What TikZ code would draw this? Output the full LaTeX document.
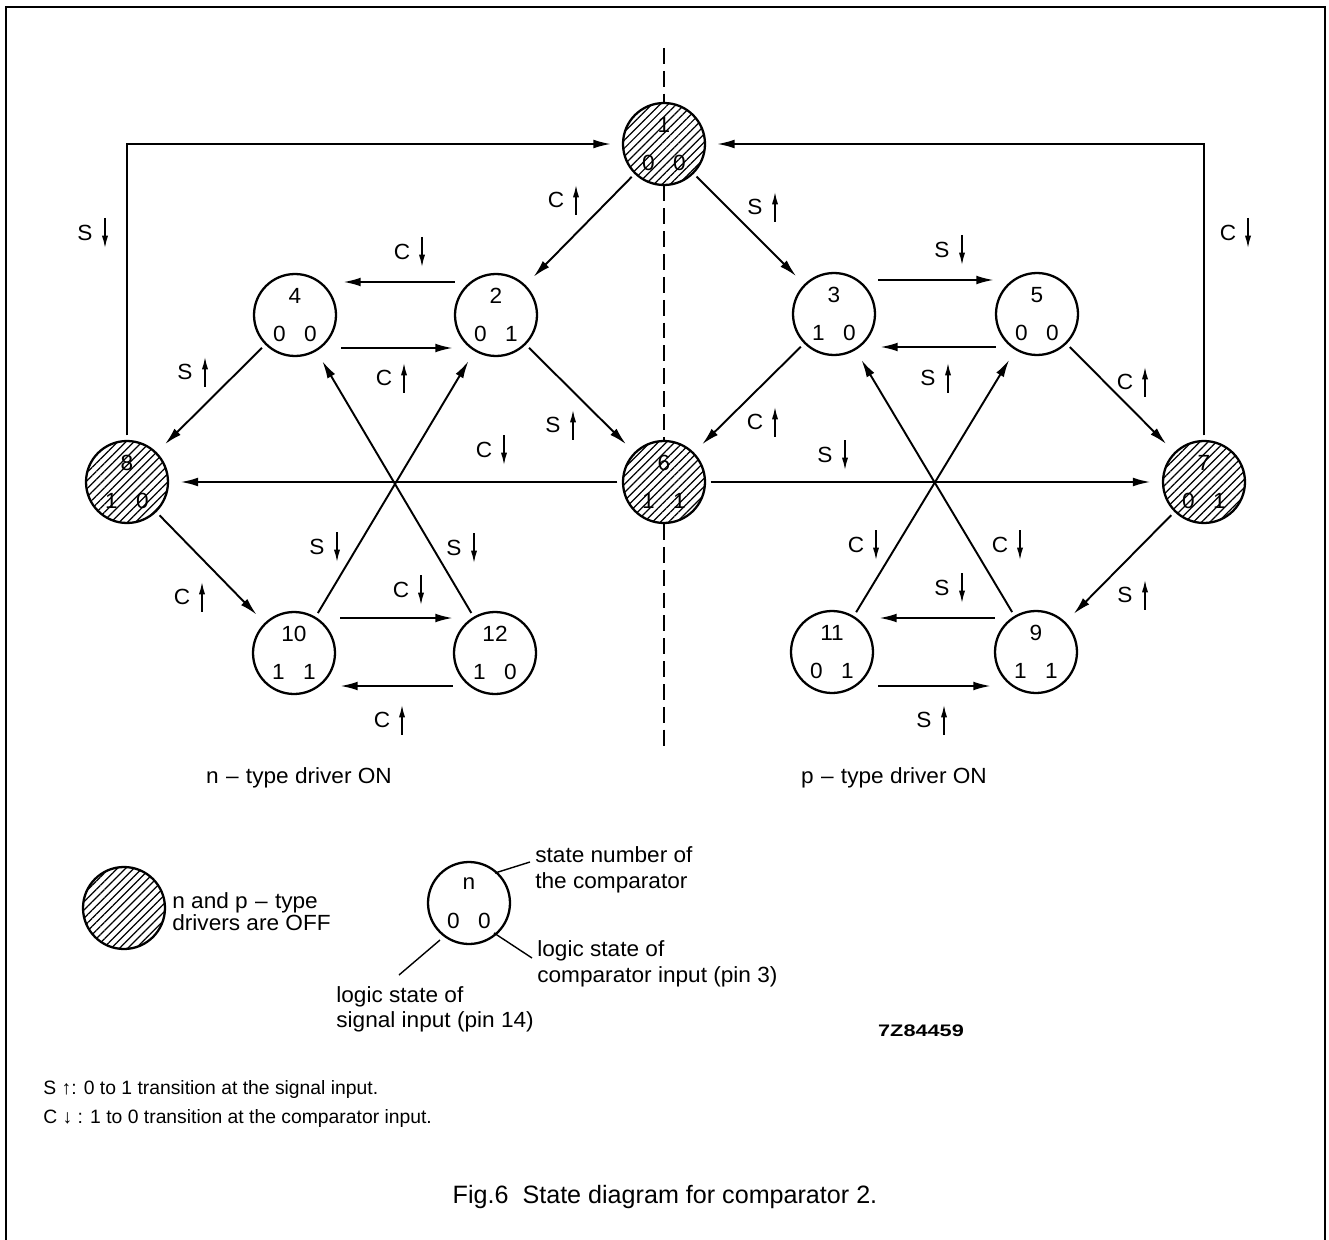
\documentclass[tikz,border=0pt]{standalone}
\usepackage{fontspec}
\setmainfont{Liberation Sans}
\newfontfamily\diagfont{Liberation Sans}[FakeStretch=1.03]
\newfontfamily\codefont{Liberation Sans}[FakeStretch=1.3]
\usetikzlibrary{
	arrows.meta,
	calc,
	patterns.meta
}

% letter S or C with the small transition arrow beside it
\newcommand{\translabel}[4]{%
	\node[letter] (#1) at (#2) {#3};
	\draw[flag#4] ($(#1)+(20,-15)$) -- ($(#1)+(20,15)$);
}

\begin{document}
\begin{tikzpicture}[x=0.02cm, y=-0.02cm,
		font=\diagfont\fontsize{12.5}{14.5}\selectfont,
		state/.style={draw, circle, line width=1.3pt, minimum size=1.64cm, inner sep=0pt, align=center},
		off/.style={state, pattern={Lines[angle=45,distance=3.3pt,line width=0.7pt]}},
		trans/.style={-{Latex[length=10pt,width=5pt]}, line width=1.1pt, shorten <=2.5pt, shorten >=6.5pt},
		pair/.style={-{Latex[length=10pt,width=5pt]}, line width=1.2pt},
		letter/.style={inner sep=0pt},
		flagdown/.style={-{Latex[length=7pt,width=3.5pt]}, line width=0.8pt},
		flagup/.style={{Latex[length=7pt,width=3.5pt]}-, line width=0.8pt},
		divider/.style={dash pattern=on 9pt off 4pt, line width=1pt},
		leader/.style={line width=0.8pt},
		txt/.style={inner sep=0pt, align=left}]
		\useasboundingbox (0,0) rectangle (1329,1240);
		\draw[line width=1.1pt] (6,1240) -- (6,7) -- (1325,7) -- (1325,1240);
		
		% states: number on top, signal and comparator inputs below
		\node[off] (n1) at (664,144) {1\\[7.5pt]0\hspace{10.5pt}0};
		\node[state] (n2) at (496,315) {2\\[7.5pt]0\hspace{10.5pt}1};
		\node[state] (n3) at (834,314) {3\\[7.5pt]1\hspace{10.5pt}0};
		\node[state] (n4) at (295,315) {4\\[7.5pt]0\hspace{10.5pt}0};
		\node[state] (n5) at (1037,314) {5\\[7.5pt]0\hspace{10.5pt}0};
		\node[off] (n6) at (664,482) {6\\[7.5pt]1\hspace{10.5pt}1};
		\node[off] (n7) at (1204,482) {7\\[7.5pt]0\hspace{10.5pt}1};
		\node[off] (n8) at (127,482) {8\\[7.5pt]1\hspace{10.5pt}0};
		\node[state] (n9) at (1036,652) {9\\[7.5pt]1\hspace{10.5pt}1};
		\node[state] (n10) at (294,653) {10\\[7.5pt]1\hspace{10.5pt}1};
		\node[state] (n11) at (832,652) {11\\[7.5pt]0\hspace{10.5pt}1};
		\node[state] (n12) at (495,653) {12\\[7.5pt]1\hspace{10.5pt}0};
		
		\coordinate (top) at (664,48);
		\coordinate (bottom) at (664,748);
		\draw[divider] (top) -- (n1.north);
		\draw[divider] (n1.south) -- (n6.north);
		\draw[divider] (n6.south) -- (bottom);
		
		\draw[trans] (n8) |- (n1);
		\draw[trans] (n7) |- (n1);
		\draw[trans] (n1) -- (n2);
		\draw[trans] (n1) -- (n3);
		\draw[trans] (n2) -- (n6);
		\draw[trans] (n3) -- (n6);
		\draw[trans] (n4) -- (n8);
		\draw[trans] (n5) -- (n7);
		\draw[trans] (n8) -- (n10);
		\draw[trans] (n7) -- (n9);
		\draw[trans] (n6) -- (n8);
		\draw[trans] (n6) -- (n7);
		\draw[trans] (n10) -- (n2);
		\draw[trans] (n12) -- (n4);
		\draw[trans] (n11) -- (n5);
		\draw[trans] (n9) -- (n3);
		
		% back and forth between neighbours
		\draw[pair] ($(n2.west)+(1,-33)$) -- ($(n4.east)+(6,-33)$);
		\draw[pair] ($(n4.east)+(4,33)$) -- ($(n2.west)+(-1,33)$);
		\draw[pair] ($(n3.east)+(2,-34)$) -- ($(n5.west)+(-1,-34)$);
		\draw[pair] ($(n5.west)+(1,33)$) -- ($(n3.east)+(4,33)$);
		\draw[pair] ($(n10.east)+(4,-35)$) -- ($(n12.west)+(0,-35)$);
		\draw[pair] ($(n12.west)+(0,33)$) -- ($(n10.east)+(4,33)$);
		\draw[pair] ($(n9.west)+(1,-34)$) -- ($(n11.east)+(5,-34)$);
		\draw[pair] ($(n11.east)+(4,34)$) -- ($(n9.west)+(-3,34)$);
		
		\translabel{s81}{85,233}{S}{down}
		\translabel{c71}{1228,233}{C}{down}
		\translabel{c12}{556,200}{C}{up}
		\translabel{s13}{755,207}{S}{up}
		\translabel{c24}{402,252}{C}{down}
		\translabel{c42}{384,378}{C}{up}
		\translabel{s48}{185,372}{S}{up}
		\translabel{s26}{553,425}{S}{up}
		\translabel{c68}{484,450}{C}{down}
		\translabel{s102}{317,547}{S}{down}
		\translabel{s124}{454,548}{S}{down}
		\translabel{c810}{182,597}{C}{up}
		\translabel{c1012}{401,590}{C}{down}
		\translabel{c1210}{382,720}{C}{up}
		\translabel{s35}{942,250}{S}{down}
		\translabel{s53}{928,378}{S}{up}
		\translabel{c36}{755,422}{C}{up}
		\translabel{c57}{1125,382}{C}{up}
		\translabel{s67}{825,455}{S}{down}
		\translabel{c115}{856,545}{C}{down}
		\translabel{c93}{1000,545}{C}{down}
		\translabel{s911}{942,588}{S}{down}
		\translabel{s119}{924,720}{S}{up}
		\translabel{s79}{1125,595}{S}{up}
		
		\node (ndriver) at (299,778) {n\,\,–\,\,type driver ON};
		\node (pdriver) at (894,778) {p\,\,–\,\,type driver ON};
		
		% key
		\node[off] (offkey) at (124,908) {};
		\node[txt, anchor=west] (offtext) at (172,912) {n and p\,\,–\,\,type\\[-2pt]drivers are OFF};
		\node[state] (key) at (469,903) {n\\[7.5pt]0\hspace{10.5pt}0};
		\node[txt, anchor=west] (numtext) at (535,870) {state number of\\the comparator};
		\node[txt, anchor=west] (cmptext) at (537,964) {logic state of\\comparator input (pin 3)};
		\node[txt, anchor=north west] (sigtext) at (336,986) {logic state of\\signal input (pin 14)};
		\draw[leader] ($(key)+(26,-30)$) -- ($(numtext.west)+(-5,-8)$);
		\draw[leader] ($(key)+(25,30)$) -- ($(cmptext.west)+(-5,-6)$);
		\draw[leader] ($(key)+(-29,37)$) -- ($(sigtext.north west)+(63,-11)$);
		\node[font=\codefont\bfseries\fontsize{9.5}{11}\selectfont] (code) at (921,1031) {7Z84459};
		
		\node[txt, anchor=west, font=\rmfamily\fontsize{11}{13}\selectfont] (snote) at (43,1089) {S ↑: 0 to 1 transition at the signal input.};
		\node[txt, anchor=west, font=\rmfamily\fontsize{11}{13}\selectfont] (cnote) at (43,1118) {C ↓ : 1 to 0 transition at the comparator input.};
		\node[font=\rmfamily\fontsize{14.3}{17}\selectfont] (caption) at (665,1197) {Fig.6\ \ State diagram for comparator 2.};
	\end{tikzpicture}
\end{document}
